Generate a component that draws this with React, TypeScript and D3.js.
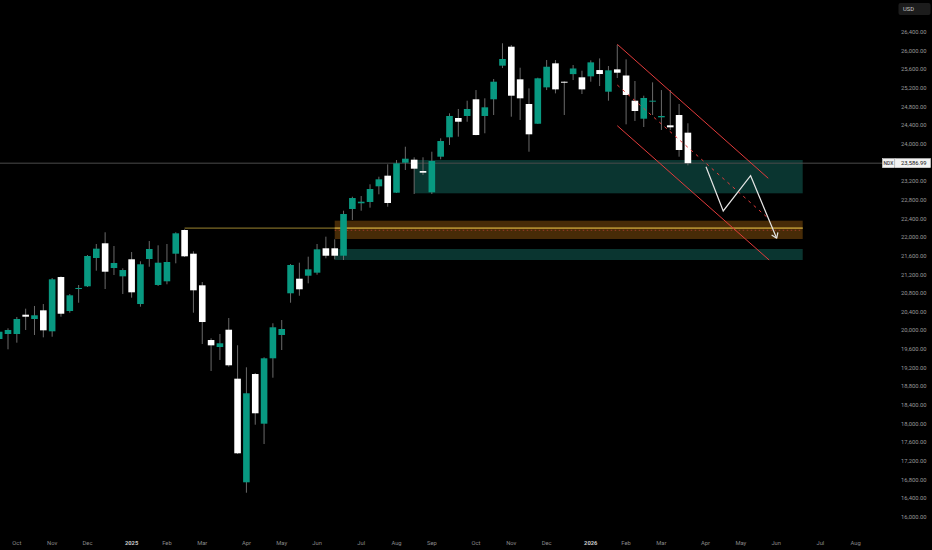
import { useEffect, useRef } from 'react';
import * as d3 from 'd3';

// weekly NDX candles, index 0 = week of 16 Sep 2024
const opens = [19817, 19924, 19924, 20338, 20246, 20432, 19982, 21146, 20417, 20889, 20947, 21554, 21869, 21339, 21161, 21526, 20567, 21532, 20975, 21054, 21646, 22154, 21646, 20968, 19795, 19645, 20016, 18966, 16744, 19066, 18001, 19403, 19903, 20797, 21110, 21174, 21239, 21762, 21762, 21603, 22605, 22727, 22755, 23091, 23319, 22954, 23597, 23662, 23419, 22963, 23726, 24142, 24556, 24599, 24957, 24599, 24957, 25678, 26085, 25385, 24856, 24433, 25213, 25728, 25334, 25497, 25428, 25449, 25584, 25120, 25599, 25467, 24927, 24541, 24906, 24570, 24399, 24620, 24241];
const highs = [20010, 20046, 20289, 20467, 20525, 20567, 21125, 21160, 20782, 20975, 21618, 21854, 22105, 21811, 21333, 21682, 21483, 21918, 21826, 21854, 22105, 22169, 21697, 21039, 19832, 19924, 20267, 19682, 19210, 19088, 19424, 20154, 20224, 21425, 21453, 21582, 21854, 22011, 21955, 22568, 22868, 22883, 23134, 23297, 23562, 23655, 23940, 23713, 23713, 23833, 24120, 24656, 24749, 24927, 25155, 24978, 25392, 26158, 26121, 25634, 25191, 25420, 25799, 25799, 25340, 25692, 25570, 25792, 25834, 25670, 26121, 25813, 25349, 25034, 25320, 25155, 25155, 24856, 24442];
const lows = [19790, 19596, 19738, 20010, 19903, 19853, 19866, 20295, 20381, 20595, 20932, 21282, 20889, 21189, 20782, 20703, 20510, 21367, 20954, 20990, 21440, 21575, 20381, 19710, 19131, 19367, 19223, 17351, 16521, 17979, 17565, 18987, 19581, 20595, 20745, 21011, 21196, 21547, 21525, 21511, 22369, 22568, 22633, 22920, 22654, 22948, 23441, 22926, 23334, 22926, 23670, 23977, 24155, 24476, 24185, 24228, 24620, 25627, 24584, 24513, 23833, 24427, 25155, 25084, 24620, 25370, 25070, 25334, 25241, 24927, 25413, 24420, 24491, 24363, 24620, 24299, 24299, 23726, 23540];
const closes = [19973, 20010, 20246, 20295, 20325, 20003, 21097, 20359, 20754, 20911, 21597, 21754, 21260, 21447, 21296, 20818, 21419, 21747, 21453, 21468, 22083, 21590, 20861, 20181, 19681, 19725, 19253, 17366, 18653, 18224, 19403, 20068, 20031, 21404, 20883, 21311, 21740, 21603, 21603, 22497, 22840, 22761, 23033, 23241, 22733, 23584, 23683, 23469, 23383, 23634, 24062, 24599, 24476, 24749, 24191, 24785, 25334, 25821, 25034, 24978, 24206, 25407, 25655, 25170, 25313, 25618, 25170, 25749, 25499, 25578, 25527, 25049, 24706, 24985, 24927, 24599, 24356, 23870, 23586.99];

const lastPrice = 23586.99;

// time axis (bar index of first week of each month)
const monthLabels = ['Oct', 'Nov', 'Dec', '2025', 'Feb', 'Mar', 'Apr', 'May', 'Jun', 'Jul', 'Aug', 'Sep', 'Oct', 'Nov', 'Dec', '2026', 'Feb', 'Mar', 'Apr', 'May', 'Jun', 'Jul', 'Aug'];
const monthWeeks = [2, 6, 10, 15, 19, 23, 28, 32, 36, 41, 45, 49, 54, 58, 62, 67, 71, 75, 80, 84, 88, 93, 97];

// price axis
const priceTicks = d3.range(16000, 26401, 400).filter(v => v !== 23600);

// zones [fromWeek, toWeek, top, bottom]
const supplyZone = [47, 91, 23655, 22941];
const orangeZone = [38, 91, 22354, 21961];
const lowerZone = [38, 91, 21747, 21511];
const yellowLevel = [21, 91, 22193];
const redDotLevel = [38, 91, 22148];

// descending channel
const channelUpper = [[70, 26136], [87.1, 23263]];
const channelLower = [[70, 24391], [87.2, 21511]];
const channelMid = [[70, 25263], [86.9, 22439]];

// projected path
const projection = [[80.05, 23512], [82.0, 22562], [85.1, 23319], [88.05, 21976]];

export default function App() {
  const svgRef = useRef<SVGSVGElement>(null);

  useEffect(() => {
    if (!svgRef.current) return;
    const svg = d3.select(svgRef.current);
    svg.selectAll('*').remove();

    const width = 932;
    const height = 550;
    const font = 'Roboto, "Noto Sans", sans-serif';

    svg.attr('width', width).attr('height', height);

    svg.append('rect').attr('width', width).attr('height', height).attr('fill', '#000');

    const x = d3.scaleLinear().domain([0, 100]).range([-0.83, 882.17]);
    const y = d3.scaleLinear().domain([16000, 26400]).range([517, 32]);

    const zone = (z: number[], fill: string) => {
      svg.append('rect')
        .attr('x', x(z[0]))
        .attr('y', y(z[2]))
        .attr('width', x(z[1]) - x(z[0]))
        .attr('height', y(z[3]) - y(z[2]))
        .attr('fill', fill);
    };
    zone(supplyZone, '#0a3530');
    zone(orangeZone, '#472b07');
    zone(lowerZone, '#0a3530');

    // levels
    svg.append('line')
      .attr('x1', x(yellowLevel[0])).attr('x2', x(yellowLevel[1]))
      .attr('y1', y(yellowLevel[2])).attr('y2', y(yellowLevel[2]))
      .attr('stroke', '#7d6a26').attr('stroke-width', 1.2);
    svg.append('line')
      .attr('x1', x(orangeZone[0])).attr('x2', x(orangeZone[1]))
      .attr('y1', y(yellowLevel[2])).attr('y2', y(yellowLevel[2]))
      .attr('stroke', '#c39a35').attr('stroke-width', 1.2);
    svg.append('line')
      .attr('x1', x(redDotLevel[0])).attr('x2', x(redDotLevel[1]))
      .attr('y1', y(redDotLevel[2])).attr('y2', y(redDotLevel[2]))
      .attr('stroke', '#9c3a2a').attr('stroke-width', 1)
      .attr('stroke-dasharray', '1.5,2.5');

    // last price line
    svg.append('line')
      .attr('x1', 0).attr('x2', 883)
      .attr('y1', y(lastPrice)).attr('y2', y(lastPrice))
      .attr('stroke', '#4a4a4a').attr('stroke-width', 1);

    // candles
    const bodyW = 6.6;
    const candles = opens.map((o, i) => ({ i, o, h: highs[i], l: lows[i], c: closes[i] }));
    const g = svg.append('g');
    g.selectAll('.wick')
      .data(candles)
      .enter()
      .append('line')
      .attr('x1', d => x(d.i)).attr('x2', d => x(d.i))
      .attr('y1', d => y(d.h)).attr('y2', d => y(d.l))
      .attr('stroke', '#6a6a6a').attr('stroke-width', 1);
    g.selectAll('.body')
      .data(candles)
      .enter()
      .append('rect')
      .attr('x', d => x(d.i) - bodyW / 2)
      .attr('width', bodyW)
      .attr('y', d => y(Math.max(d.o, d.c)))
      .attr('height', d => Math.max(1, Math.abs(y(d.o) - y(d.c))))
      .attr('fill', d => (d.c >= d.o ? '#089981' : '#ffffff'));

    // channel
    const line = d3.line<number[]>().x(d => x(d[0])).y(d => y(d[1]));
    [channelUpper, channelLower].forEach(pts => {
      svg.append('path').attr('d', line(pts)).attr('fill', 'none')
        .attr('stroke', '#e23b3b').attr('stroke-width', 1);
    });
    svg.append('path').attr('d', line(channelMid)).attr('fill', 'none')
      .attr('stroke', '#e23b3b').attr('stroke-width', 1)
      .attr('stroke-dasharray', '3,4');

    // projection
    svg.append('path').attr('d', line(projection)).attr('fill', 'none')
      .attr('stroke', '#e6e6e6').attr('stroke-width', 1.2);
    const n = projection.length;
    const tipX = x(projection[n - 1][0]);
    const tipY = y(projection[n - 1][1]);
    const ang = Math.atan2(tipY - y(projection[n - 2][1]), tipX - x(projection[n - 2][0]));
    [-0.6, 0.6].forEach(a => {
      svg.append('line')
        .attr('x1', tipX).attr('y1', tipY)
        .attr('x2', tipX - 6 * Math.cos(ang + a))
        .attr('y2', tipY - 6 * Math.sin(ang + a))
        .attr('stroke', '#e6e6e6').attr('stroke-width', 1.2);
    });

    // price axis
    svg.selectAll('.ptick')
      .data(priceTicks)
      .enter()
      .append('text')
      .attr('x', 926.5)
      .attr('y', d => y(d))
      .attr('dy', '0.35em')
      .attr('text-anchor', 'end')
      .style('font-family', font)
      .style('font-size', '5.8px')
      .attr('fill', '#9a9a9a')
      .text(d => d3.format(',.2f')(d));

    // USD badge
    svg.append('rect').attr('x', 898.5).attr('y', 3).attr('width', 32).attr('height', 12)
      .attr('rx', 2).attr('fill', '#1c1c1c');
    svg.append('text').attr('x', 903).attr('y', 9).attr('dy', '0.35em')
      .style('font-family', font).style('font-size', '5.8px')
      .attr('fill', '#c8c8c8').text('USD');

    // last price label
    const ly = y(lastPrice);
    svg.append('rect').attr('x', 882.5).attr('y', ly - 4.5).attr('width', 12).attr('height', 9)
      .attr('fill', '#f2f2f2').attr('stroke', '#dcdcdc').attr('stroke-width', 0.6);
    svg.append('text').attr('x', 888.5).attr('y', ly).attr('dy', '0.35em')
      .attr('text-anchor', 'middle')
      .style('font-family', font).style('font-size', '5px')
      .attr('fill', '#111').text('NDX');
    svg.append('rect').attr('x', 895).attr('y', ly - 4.5).attr('width', 35.5).attr('height', 9)
      .attr('fill', '#f2f2f2').attr('stroke', '#dcdcdc').attr('stroke-width', 0.6);
    svg.append('text').attr('x', 926.5).attr('y', ly).attr('dy', '0.35em')
      .attr('text-anchor', 'end')
      .style('font-family', font).style('font-size', '5.8px')
      .attr('fill', '#111').text(d3.format(',.2f')(lastPrice));

    // time axis
    svg.selectAll('.mtick')
      .data(monthLabels)
      .enter()
      .append('text')
      .attr('x', (d, i) => x(monthWeeks[i]))
      .attr('y', 543)
      .attr('dy', '0.35em')
      .attr('text-anchor', 'middle')
      .style('font-family', font)
      .style('font-size', '5.8px')
      .style('font-weight', d => (/^\d+$/.test(d) ? '700' : '400'))
      .attr('fill', d => (/^\d+$/.test(d) ? '#c8c8c8' : '#8a8a8a'))
      .text(d => d);
  }, []);

  return (
    <svg ref={svgRef} style={{ position: 'absolute', left: 0, top: 0, display: 'block' }} />
  );
}
